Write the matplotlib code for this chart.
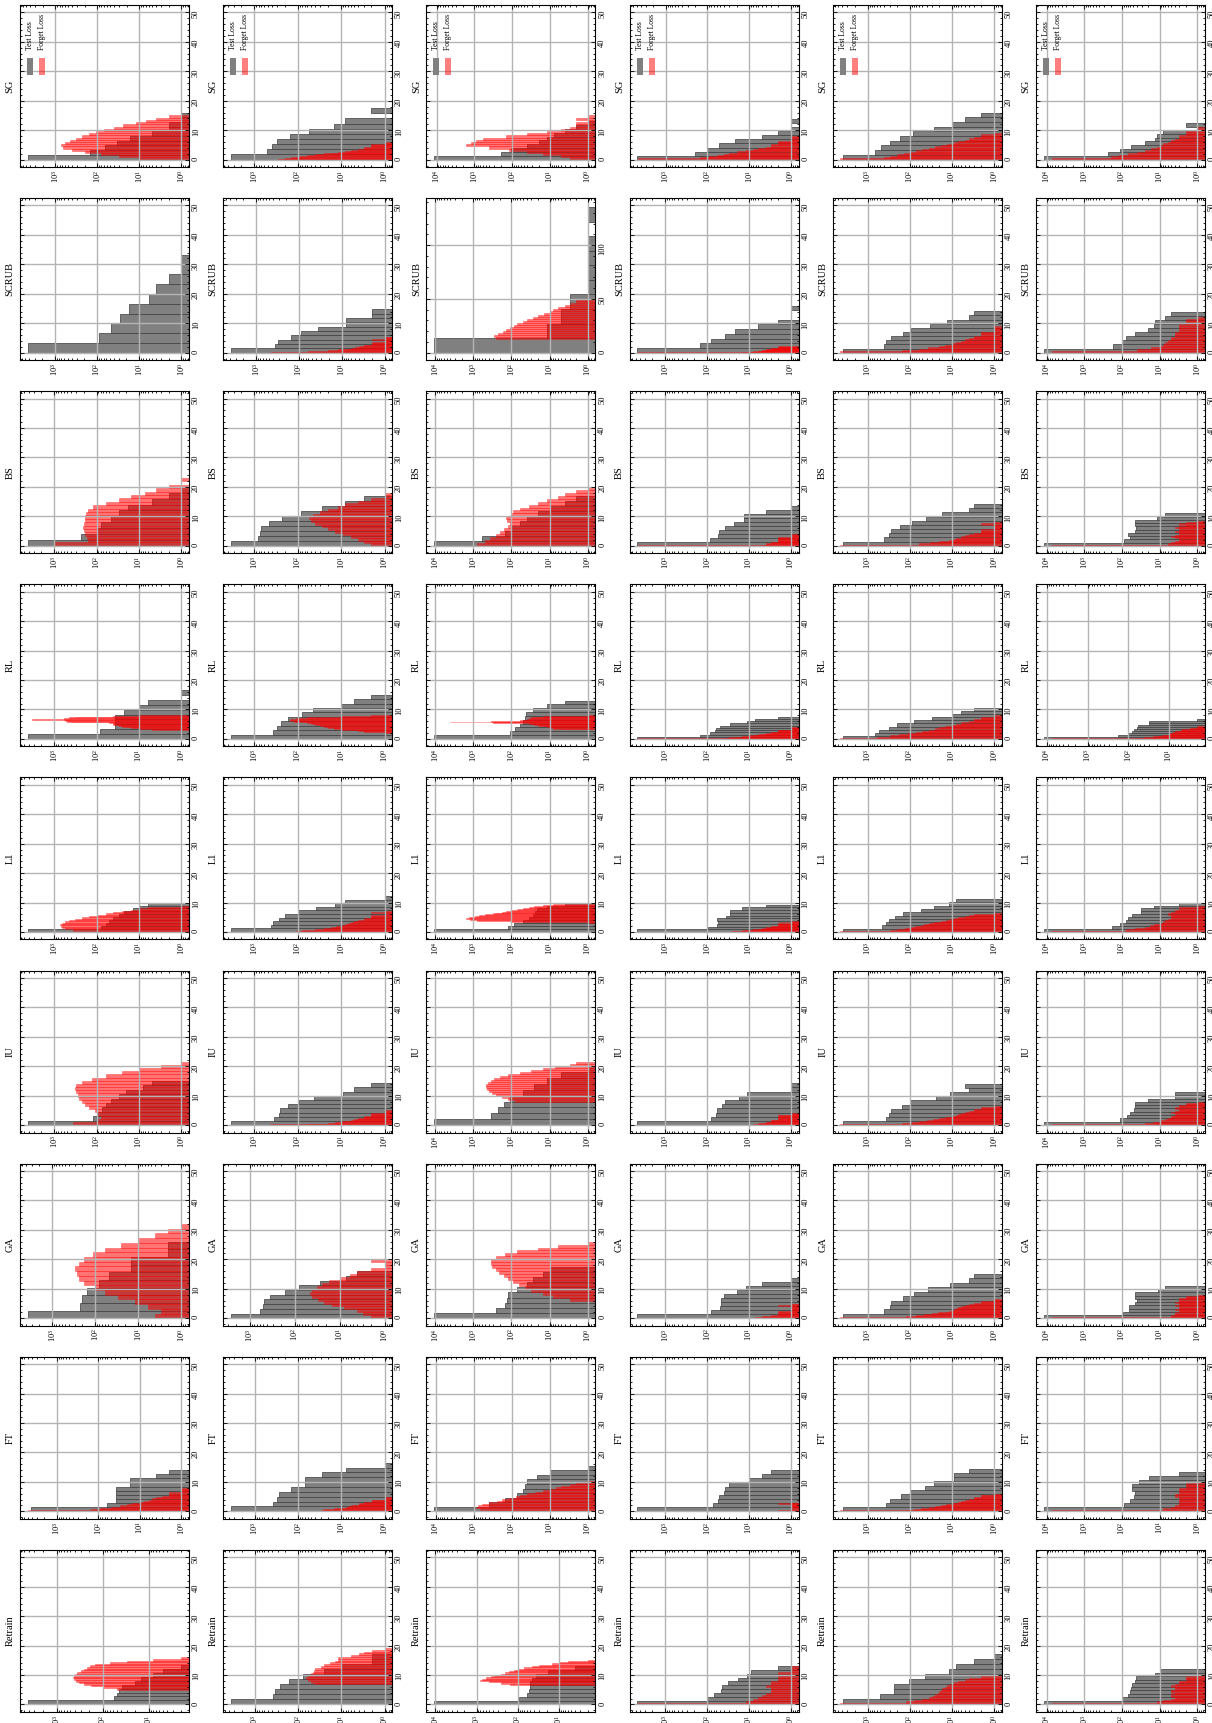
import numpy as np
import matplotlib
matplotlib.use("Agg")
import matplotlib.pyplot as plt
from matplotlib.ticker import MultipleLocator, AutoMinorLocator
from matplotlib.patches import Rectangle

plt.rcParams["font.family"] = "serif"
plt.rcParams["font.serif"] = ["Liberation Serif", "DejaVu Serif"]
plt.rcParams["mathtext.fontset"] = "stix"

METHODS = ["Retrain", "FT", "GA", "IU", "L1", "RL", "BS", "SCRUB", "SG"]

# ---------------- test-loss histograms (10 bins from 0 to max) ----------------
test_max_c1 = {"Retrain": 13.5, "FT": 14, "GA": 26, "IU": 15, "L1": 10, "RL": 16.5, "BS": 20, "SCRUB": 33.3, "SG": 16}
test_counts_c1 = {
    "Retrain": [4200, 56, 50, 45, 38, 20, 15, 8, 5, 2],
    "FT": [4200, 61, 37, 37, 37, 37, 17, 17, 4, 2],
    "GA": [3700, 220, 200, 155, 83, 49, 15, 15, 2, 2],
    "IU": [4200, 120, 100, 75, 60, 45, 30, 20, 8, 5],
    "L1": [4200, 80, 60, 50, 40, 30, 22, 14, 10, 6],
    "RL": [4200, 83, 36, 36, 36, 22, 10, 6, 0, 1],
    "BS": [4200, 230, 100, 80, 45, 30, 18, 5, 2, 1],
    "SCRUB": [4400, 88, 47, 28, 17, 6, 4, 2, 1, 1],
    "SG": [4600, 150, 65, 35, 17, 5, 2, 2, 1, 1],
}
test_max_c2 = {"Retrain": 17, "FT": 16.5, "GA": 16, "IU": 14.2, "L1": 12.2, "RL": 15, "BS": 17, "SCRUB": 14.7, "SG": 17.5}
test_counts_c2 = {
    "Retrain": [3600, 390, 350, 260, 160, 78, 25, 10, 2, 2],
    "FT": [3600, 390, 315, 280, 145, 70, 70, 28, 8, 1],
    "GA": [2600, 590, 510, 470, 355, 165, 81, 27, 7, 4],
    "IU": [3500, 355, 270, 257, 170, 92, 42, 9, 5, 2],
    "L1": [3500, 420, 370, 275, 200, 100, 39, 14, 8, 1],
    "RL": [3500, 370, 310, 250, 170, 78, 45, 10, 5, 2],
    "BS": [3500, 810, 760, 700, 455, 235, 83, 27, 8, 3],
    "SCRUB": [3900, 370, 310, 155, 92, 36, 8, 8, 2, 2],
    "SG": [3500, 520, 400, 310, 155, 55, 15, 8, 0, 2],
}
test_max_c3 = {"Retrain": 13, "FT": 15.5, "GA": 17.5, "IU": 20, "L1": 10, "RL": 13, "BS": 17, "SCRUB": 135.5, "SG": 13}
test_counts_c3 = {
    "Retrain": [10700, 94, 60, 52, 50, 49, 45, 35, 18, 4],
    "FT": [11200, 400, 150, 74, 51, 46, 41, 22, 10, 1],
    "GA": [10700, 250, 150, 130, 120, 70, 40, 28, 15, 10],
    "IU": [10700, 350, 230, 160, 110, 50, 25, 12, 5, 1],
    "L1": [10700, 126, 85, 49, 35, 27, 24, 21, 12, 4],
    "RL": [10700, 112, 79, 58, 49, 44, 42, 27, 12, 4],
    "BS": [10700, 600, 150, 100, 60, 40, 20, 10, 4, 2],
    "SCRUB": [10700, 12, 5, 3, 1, 1, 1, 1, 0, 1],
    "SG": [11700, 200, 110, 40, 20, 12, 8, 4, 2, 1],
}
test_max_c4 = {"Retrain": 13, "FT": 14, "GA": 13.5, "IU": 14.2, "L1": 9.3, "RL": 7.5, "BS": 13.5, "SCRUB": 16, "SG": 13.7}
test_counts_c4 = {
    "Retrain": [4600, 100, 70, 46, 43, 31, 18, 11, 9, 2],
    "FT": [4600, 72, 56, 53, 39, 37, 30, 10, 5, 3],
    "GA": [4600, 81, 50, 46, 46, 40, 19, 12, 5, 1],
    "IU": [4600, 81, 62, 59, 43, 38, 17, 11, 1, 1],
    "L1": [4600, 94, 59, 56, 59, 35, 28, 28, 15, 4],
    "RL": [4600, 150, 87, 66, 62, 48, 28, 11, 7, 2],
    "BS": [4600, 87, 56, 51, 37, 23, 13, 13, 4, 1],
    "SCRUB": [4600, 145, 80, 38, 21, 6, 2, 0, 0, 1],
    "SG": [4800, 200, 100, 52, 22, 5, 2, 1, 0, 1],
}
test_max_c5 = {"Retrain": 17, "FT": 14.5, "GA": 15, "IU": 14, "L1": 11.2, "RL": 10.5, "BS": 14.2, "SCRUB": 14.1, "SG": 16}
test_counts_c5 = {
    "Retrain": [3800, 500, 235, 235, 107, 43, 12, 8, 3, 1],
    "FT": [3800, 360, 295, 165, 97, 43, 26, 9, 9, 4],
    "GA": [3800, 410, 295, 280, 141, 78, 37, 11, 4, 3],
    "IU": [3800, 370, 310, 280, 155, 97, 24, 11, 4, 5],
    "L1": [3800, 450, 370, 310, 225, 141, 53, 27, 12, 8],
    "RL": [3800, 660, 550, 310, 200, 78, 30, 10, 6, 3],
    "BS": [3800, 410, 310, 280, 175, 87, 41, 17, 4, 3],
    "SCRUB": [3800, 410, 370, 280, 148, 93, 33, 13, 4, 3],
    "SG": [3800, 660, 470, 300, 175, 83, 27, 10, 5, 2],
}
test_max_c6 = {"Retrain": 12, "FT": 13.5, "GA": 11, "IU": 11.3, "L1": 10, "RL": 6.6, "BS": 11, "SCRUB": 14, "SG": 12.5}
test_counts_c6 = {
    "Retrain": [12000, 100, 70, 62, 58, 53, 44, 42, 13, 10],
    "FT": [12000, 89, 62, 49, 46, 53, 53, 35, 19, 3],
    "GA": [12000, 93, 67, 67, 44, 39, 46, 46, 11, 7],
    "IU": [12000, 112, 74, 62, 49, 44, 44, 21, 4, 4],
    "L1": [12000, 180, 112, 79, 70, 55, 31, 31, 14, 3],
    "RL": [12000, 175, 100, 80, 72, 62, 58, 30, 30, 2],
    "BS": [12000, 89, 62, 70, 46, 42, 46, 44, 12, 7],
    "SCRUB": [12000, 170, 98, 79, 46, 21, 14, 13, 7, 5],
    "SG": [12000, 230, 112, 58, 24, 13, 12, 8, 1, 2],
}

# ---------------- forget-loss histograms (20 bins over [lo, hi]) ----------------
forget_range_c1 = {"Retrain": (5, 16), "FT": (0, 8), "GA": (0, 32), "IU": (0, 21.5), "L1": (0, 9),
                   "RL": (3.2, 8), "BS": (0, 23), "SCRUB": (0, 1), "SG": (0, 15)}
forget_counts_c1 = {
    "Retrain": [50, 100, 180, 260, 330, 380, 420, 430, 420, 400, 360, 300, 250, 220, 190, 150, 70, 30, 8, 2],
    "FT": [5000, 150, 90, 50, 30, 20, 15, 10, 8, 6, 5, 4, 3, 2, 2, 2, 1, 1, 1, 1],
    "GA": [4, 3, 6, 12, 30, 60, 100, 180, 240, 270, 290, 240, 180, 110, 60, 25, 10, 4, 2, 1],
    "IU": [350, 100, 80, 90, 110, 150, 190, 220, 260, 280, 300, 320, 300, 220, 130, 60, 25, 10, 3, 1],
    "L1": [100, 350, 550, 650, 700, 720, 650, 550, 450, 320, 220, 150, 100, 60, 40, 25, 15, 10, 6, 1],
    "RL": [5, 10, 15, 20, 25, 30, 35, 40, 40, 50, 400, 500, 550, 600, 3400, 600, 450, 300, 40, 10],
    "BS": [1000, 160, 170, 190, 200, 210, 200, 190, 185, 180, 160, 120, 60, 30, 15, 7, 4, 2, 0, 1],
    "SCRUB": [],
    "SG": [10, 30, 80, 200, 400, 650, 750, 600, 450, 320, 230, 160, 110, 70, 40, 25, 12, 7, 4, 2],
}
forget_range_c2 = {"Retrain": (6.8, 19.2), "FT": (0, 5), "GA": (0, 20), "IU": (0, 5), "L1": (0, 7),
                   "RL": (2, 8), "BS": (0, 18), "SCRUB": (0, 5.5), "SG": (0, 6)}
forget_counts_c2 = {
    "Retrain": [40, 50, 60, 65, 60, 50, 45, 42, 40, 30, 25, 18, 14, 12, 12, 6, 4, 3, 2, 1],
    "FT": [460, 30, 25, 15, 10, 8, 7, 6, 5, 4, 4, 3, 3, 2, 2, 2, 1, 1, 1, 1],
    "GA": [2, 3, 4, 8, 15, 22, 30, 40, 45, 40, 32, 25, 17, 10, 6, 4, 2, 1, 1, 2],
    "IU": [440, 60, 20, 14, 10, 8, 6, 5, 4, 4, 3, 3, 2, 2, 2, 2, 1, 1, 1, 1],
    "L1": [110, 80, 40, 25, 17, 13, 10, 8, 7, 6, 5, 4, 3, 3, 2, 2, 2, 1, 2, 1],
    "RL": [1, 3, 4, 6, 10, 15, 20, 25, 30, 40, 50, 60, 80, 120, 155, 150, 110, 60, 10, 2],
    "BS": [2, 3, 4, 6, 9, 14, 20, 28, 40, 50, 55, 45, 30, 20, 12, 8, 4, 2, 1, 1],
    "SCRUB": [440, 60, 21, 12, 8, 6, 5, 4, 3, 3, 2, 2, 2, 1, 1, 1, 2, 1, 1, 1],
    "SG": [290, 200, 140, 90, 60, 40, 25, 17, 12, 8, 6, 4, 3, 3, 2, 2, 1, 2, 1, 1],
}
forget_range_c3 = {"Retrain": (6.6, 15.2), "FT": (0, 10.3), "GA": (6, 26), "IU": (8, 21.5), "L1": (3, 9.6),
                   "RL": (3.3, 8), "BS": (0, 20), "SCRUB": (13, 50), "SG": (0, 15)}
forget_counts_c3 = {
    "Retrain": [150, 250, 500, 830, 750, 600, 450, 350, 250, 200, 160, 120, 100, 70, 45, 30, 15, 10, 6, 2],
    "FT": [400, 700, 870, 800, 600, 400, 250, 180, 120, 80, 60, 40, 25, 15, 10, 7, 5, 3, 2, 1],
    "GA": [3, 8, 15, 30, 45, 65, 90, 120, 160, 210, 260, 320, 350, 340, 250, 150, 70, 20, 6, 1],
    "IU": [80, 120, 180, 250, 320, 400, 450, 470, 460, 420, 350, 280, 200, 120, 60, 30, 15, 7, 3, 2],
    "L1": [1, 100, 800, 1200, 1600, 1300, 900, 700, 500, 300, 250, 180, 140, 100, 70, 50, 35, 25, 15, 8],
    "RL": [5, 8, 10, 12, 15, 20, 25, 30, 35, 300, 4200, 350, 60, 50, 40, 35, 30, 25, 15, 1],
    "BS": [800, 500, 360, 250, 200, 160, 120, 110, 130, 140, 100, 90, 60, 35, 20, 12, 6, 4, 2, 1],
    "SCRUB": [250, 290, 220, 170, 140, 110, 85, 70, 50, 40, 28, 20, 14, 10, 8, 6, 4, 3, 2, 2],
    "SG": [3, 5, 15, 40, 120, 400, 1700, 1200, 900, 600, 150, 40, 12, 5, 3, 2, 2, 1, 2, 1],
}
forget_range_c4 = {"Retrain": (0, 13), "FT": (0, 3), "GA": (0, 5), "IU": (0, 4), "L1": (0, 3.6),
                   "RL": (0, 4), "BS": (0, 4), "SCRUB": (0, 2.2), "SG": (0, 8)}
forget_counts_c4 = {
    "Retrain": [4500, 12, 8, 6, 5, 4, 3, 3, 3, 4, 3, 3, 2, 2, 2, 1, 2, 1, 1, 1],
    "FT": [4500, 2, 1, 1, 1, 1, 0, 1, 1, 0, 1, 1, 0, 1, 1, 1, 1, 2, 1, 1],
    "GA": [4500, 7, 5, 3, 2, 2, 2, 2, 1, 2, 1, 1, 1, 1, 1, 1, 1, 2, 1, 1],
    "IU": [4500, 8, 6, 5, 4, 4, 3, 3, 3, 2, 2, 2, 2, 2, 2, 1, 2, 2, 1, 1],
    "L1": [4500, 25, 15, 10, 8, 6, 5, 4, 4, 3, 3, 3, 2, 2, 2, 2, 2, 1, 2, 1],
    "RL": [4500, 40, 30, 20, 15, 10, 8, 6, 5, 4, 3, 3, 2, 2, 2, 2, 1, 1, 1, 1],
    "BS": [4500, 5, 4, 4, 3, 3, 3, 2, 2, 2, 2, 2, 2, 1, 2, 1, 1, 1, 1, 1],
    "SCRUB": [4500, 15, 10, 8, 6, 6, 5, 5, 4, 4, 4, 3, 3, 3, 3, 2, 2, 2, 2, 2],
    "SG": [4500, 150, 90, 60, 40, 30, 20, 12, 8, 6, 4, 3, 3, 2, 2, 2, 1, 1, 1, 1],
}
forget_range_c5 = {"Retrain": (0, 10), "FT": (0, 6), "GA": (0, 6.5), "IU": (0, 6.5), "L1": (0, 6.5),
                   "RL": (0, 8), "BS": (0, 8), "SCRUB": (0, 9), "SG": (0, 9)}
forget_counts_c5 = {
    "Retrain": [4400, 120, 80, 50, 35, 30, 25, 22, 20, 18, 17, 15, 13, 11, 9, 7, 5, 4, 2, 1],
    "FT": [4400, 130, 80, 55, 35, 25, 18, 14, 10, 9, 7, 6, 5, 4, 3, 3, 2, 2, 2, 1],
    "GA": [4400, 120, 70, 45, 30, 22, 15, 12, 10, 9, 8, 7, 6, 5, 4, 3, 2, 2, 1, 1],
    "IU": [4400, 150, 90, 60, 40, 28, 20, 15, 12, 10, 8, 7, 6, 5, 4, 3, 3, 2, 2, 1],
    "L1": [4400, 300, 200, 130, 100, 75, 55, 45, 35, 28, 22, 18, 14, 11, 9, 7, 5, 4, 3, 1],
    "RL": [4400, 600, 300, 180, 110, 70, 50, 35, 25, 20, 15, 10, 8, 6, 4, 3, 3, 2, 2, 1],
    "BS": [4400, 60, 33, 20, 12, 9, 8, 6, 5, 4, 3, 2, 2, 2, 1, 1, 1, 1, 2, 1],
    "SCRUB": [4400, 150, 60, 37, 20, 15, 10, 8, 6, 5, 4, 3, 3, 2, 2, 2, 1, 1, 1, 1],
    "SG": [4400, 400, 300, 200, 140, 100, 70, 50, 35, 25, 18, 13, 9, 7, 5, 4, 3, 2, 2, 1],
}
forget_range_c6 = {"Retrain": (0, 10), "FT": (0, 10), "GA": (0, 8), "IU": (0, 8), "L1": (0, 9),
                   "RL": (0, 4.3), "BS": (0, 8.5), "SCRUB": (0, 12), "SG": (0, 11)}
forget_counts_c6 = {
    "Retrain": [7000, 12, 8, 5, 4, 5, 5, 4, 5, 5, 4, 4, 5, 4, 3, 3, 2, 2, 2, 1],
    "FT": [7000, 8, 5, 4, 3, 3, 3, 3, 3, 3, 4, 4, 3, 3, 3, 3, 2, 2, 2, 1],
    "GA": [7000, 5, 5, 4, 4, 3, 3, 4, 3, 3, 4, 3, 3, 4, 3, 3, 3, 2, 2, 1],
    "IU": [7000, 25, 15, 10, 7, 6, 5, 5, 4, 4, 5, 4, 3, 3, 4, 3, 3, 2, 2, 1],
    "L1": [7000, 80, 45, 25, 18, 14, 10, 8, 7, 6, 5, 5, 5, 6, 5, 4, 4, 3, 3, 1],
    "RL": [7400, 60, 40, 25, 20, 15, 12, 10, 10, 9, 8, 7, 6, 5, 5, 4, 3, 3, 2, 2],
    "BS": [7000, 6, 5, 4, 3, 3, 4, 5, 4, 3, 3, 4, 3, 3, 4, 3, 2, 3, 2, 1],
    "SCRUB": [7000, 40, 17, 10, 8, 7, 6, 5, 5, 4, 4, 4, 3, 3, 3, 3, 2, 2, 2, 1],
    "SG": [7000, 200, 120, 70, 40, 25, 17, 12, 9, 8, 6, 5, 4, 3, 3, 2, 2, 2, 1, 1],
}

# loss-axis extent per column (the SCRUB panel of column 3 is wider)
loss_extent_c3_scrub = 137.0
loss_extent_default = 50.0

TEST_MAX = [test_max_c1, test_max_c2, test_max_c3, test_max_c4, test_max_c5, test_max_c6]
TEST_COUNTS = [test_counts_c1, test_counts_c2, test_counts_c3, test_counts_c4, test_counts_c5, test_counts_c6]
F_RANGE = [forget_range_c1, forget_range_c2, forget_range_c3, forget_range_c4, forget_range_c5, forget_range_c6]
F_COUNTS = [forget_counts_c1, forget_counts_c2, forget_counts_c3, forget_counts_c4, forget_counts_c5, forget_counts_c6]

GRAY = "#808080"
RED = "red"

W, H = 1212, 1723
fig = plt.figure(figsize=(W / 100, H / 100), dpi=100)

for c in range(6):
    for mi, m in enumerate(METHODS):
        r = 8 - mi
        left = (20 + c * 203.2) / W
        top = (5 + r * 193.1) / H
        ax = fig.add_axes([left, 1 - top - 162 / H, 169 / W, 162 / H])

        tc = np.asarray(TEST_COUNTS[c][m], float)
        te = np.linspace(0, TEST_MAX[c][m], len(tc) + 1)
        ax.hist(0.5 * (te[:-1] + te[1:]), bins=te, weights=tc, orientation="horizontal",
                log=True, color=GRAY, edgecolor="#3c3c3c", linewidth=0.5, zorder=1)

        fc = np.asarray(F_COUNTS[c][m], float)
        if fc.size:
            lo, hi = F_RANGE[c][m]
            fe = np.linspace(lo, hi, len(fc) + 1)
            ax.hist(0.5 * (fe[:-1] + fe[1:]), bins=fe, weights=fc, orientation="horizontal",
                    log=True, color=RED, alpha=0.55, edgecolor=RED, linewidth=0.4, zorder=1.1)

        ax.invert_xaxis()
        M = loss_extent_c3_scrub if (c == 2 and m == "SCRUB") else loss_extent_default
        ax.set_ylim(-0.05 * M, 1.05 * M)
        ax.yaxis.set_major_locator(MultipleLocator(50 if M > 60 else 10))
        ax.yaxis.set_minor_locator(AutoMinorLocator(5))

        ax.grid(True, which="major", color="#b4b4b4", linewidth=1.0)
        ax.tick_params(which="both", direction="in", top=True, bottom=True, left=True, right=True,
                       labelleft=False, labelright=True, labelbottom=True, labeltop=False,
                       labelsize=6, width=0.6, pad=2)
        ax.tick_params(which="major", length=3)
        ax.tick_params(which="minor", length=1.5)
        ax.tick_params(axis="x", labelrotation=90)
        ax.tick_params(axis="y", labelrotation=90)
        for s in ax.spines.values():
            s.set_linewidth(0.8)

        ax.text(-0.06, 0.5, m, rotation=90, transform=ax.transAxes, ha="center", va="center", fontsize=7.5)

        if m == "SG":
            ax.add_patch(Rectangle((0.041, 0.568), 0.036, 0.105, transform=ax.transAxes,
                                   facecolor=GRAY, edgecolor="none", zorder=5))
            ax.add_patch(Rectangle((0.112, 0.568), 0.036, 0.105, transform=ax.transAxes,
                                   facecolor=RED, alpha=0.5, edgecolor="none", zorder=5))
            ax.text(0.059, 0.72, "Test Loss", rotation=90, transform=ax.transAxes,
                    ha="center", va="bottom", fontsize=5.5, zorder=6)
            ax.text(0.130, 0.72, "Forget Loss", rotation=90, transform=ax.transAxes,
                    ha="center", va="bottom", fontsize=5.5, zorder=6)

fig.savefig("out.png", dpi=100)
